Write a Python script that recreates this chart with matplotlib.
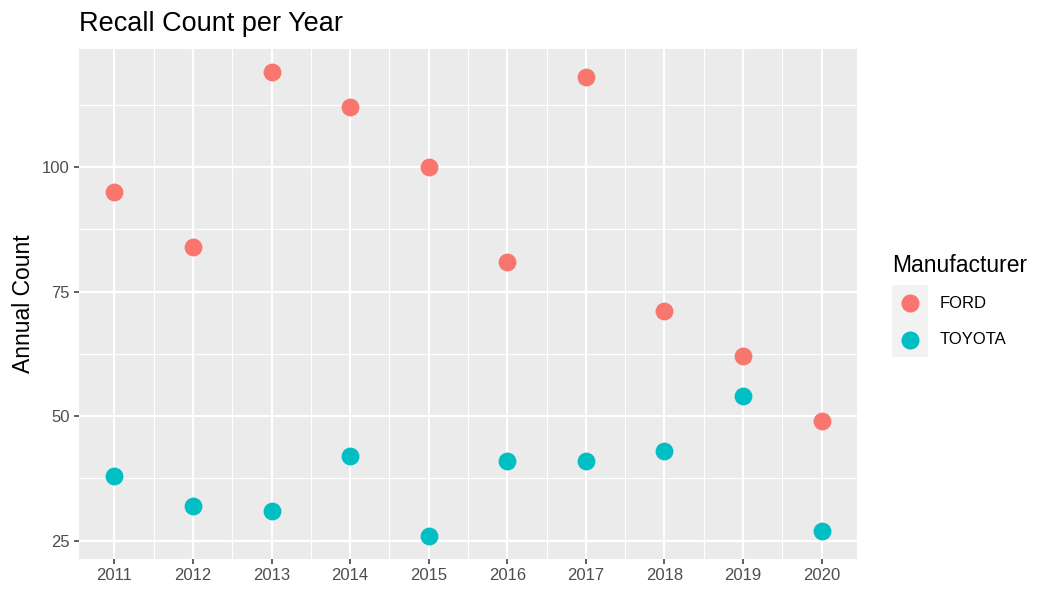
import matplotlib.pyplot as plt
from matplotlib.patches import Rectangle
from matplotlib.lines import Line2D

plt.rcParams['font.family'] = ['Liberation Sans', 'DejaVu Sans']

years = [2011, 2012, 2013, 2014, 2015, 2016, 2017, 2018, 2019, 2020]
ford = [95, 84, 119, 112, 100, 81, 118, 71, 62, 49]
toyota = [38, 32, 31, 42, 26, 41, 41, 43, 54, 27]
makers = ['FORD', 'TOYOTA']
colors = ['#F8766D', '#00BFC4']

W, H = 1050, 600
fig = plt.figure(figsize=(W / 100, H / 100), dpi=100)
ax = fig.add_axes([79 / W, 1 - 559 / H, (857 - 79) / W, (559 - 49) / H])
ax.set_facecolor('#EBEBEB')

for vals, c in zip([ford, toyota], colors):
    ax.scatter(years, vals, s=165, color=c, linewidths=0, zorder=3)

# ggplot-ish expansion
allv = ford + toyota
lo, hi = min(allv), max(allv)
pad = (hi - lo) * 0.05
ax.set_ylim(lo - pad, hi + pad)
xpad = (years[-1] - years[0]) * 0.05
ax.set_xlim(years[0] - xpad, years[-1] + xpad)

ax.set_xticks(years)
ax.set_xticklabels([str(y) for y in years])
ax.set_yticks([25, 50, 75, 100])
ax.set_xticks([y + 0.5 for y in years[:-1]], minor=True)
ax.set_yticks([37.5, 62.5, 87.5, 112.5], minor=True)
ax.grid(which='major', color='white', linewidth=1.6)
ax.grid(which='minor', color='white', linewidth=0.8)
ax.set_axisbelow(True)
for s in ax.spines.values():
    s.set_visible(False)
ax.tick_params(which='major', length=3.5, width=1.1, color='#333333',
               labelsize=12, labelcolor='#4D4D4D', pad=3)
ax.tick_params(which='minor', length=0)

ax.set_ylabel('Annual Count', fontsize=16.5, labelpad=5)
fig.text(79 / W, 1 - 24 / H, 'Recall Count per Year', fontsize=19.5,
         va='center', ha='left')

# legend, ggplot style
fig.text(892 / W, 1 - 265 / H, 'Manufacturer', fontsize=16.5, va='center', ha='left')
fig.add_artist(Rectangle((892 / W, 1 - 357 / H), 36 / W, 72 / H,
                         transform=fig.transFigure, facecolor='#F2F2F2',
                         edgecolor='none'))
for i, (m, c) in enumerate(zip(makers, colors)):
    yy = 1 - (303 + 37 * i) / H
    fig.add_artist(Line2D([910 / W], [yy], transform=fig.transFigure,
                          marker='o', markersize=13, color=c, markeredgewidth=0,
                          linestyle='none'))
    fig.text(940 / W, yy, m, fontsize=12, va='center', ha='left')

fig.savefig('out.png', dpi=100)
